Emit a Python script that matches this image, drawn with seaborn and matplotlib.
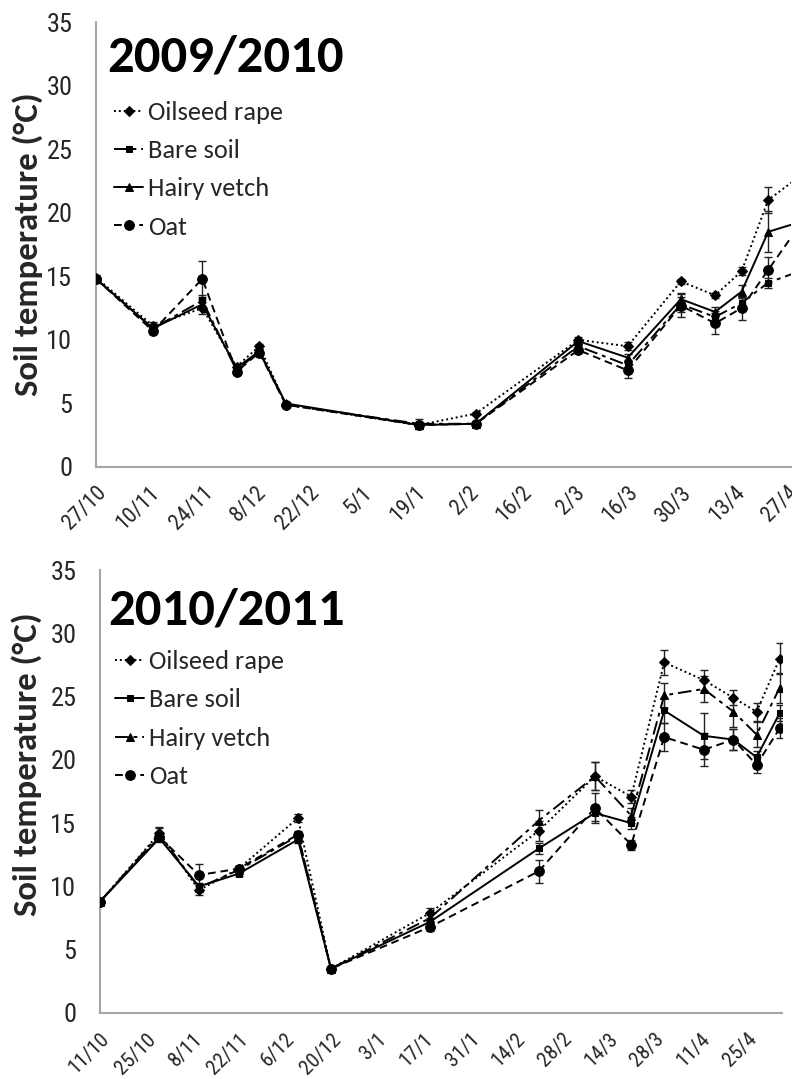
import matplotlib
matplotlib.use("Agg")
import matplotlib.pyplot as plt
from matplotlib import font_manager
from matplotlib.transforms import ScaledTranslation
import pandas as pd
import seaborn as sns

# 2009/2010 season
dates_0910 = ["2009-10-27", "2009-11-11", "2009-11-24", "2009-12-03", "2009-12-09",
              "2009-12-16", "2010-01-20", "2010-02-04", "2010-03-03", "2010-03-16",
              "2010-03-30", "2010-04-08", "2010-04-15", "2010-04-22", "2010-05-04"]
oilseed_0910 = [14.9, 11.1, 12.5, 7.9, 9.5, 4.9, 3.3, 4.2, 10.0, 9.5, 14.6, 13.5, 15.4, 21.0, 23.7]
bare_0910 = [14.8, 10.9, 13.1, 7.6, 9.1, 4.9, 3.4, 3.4, 9.5, 8.0, 12.8, 11.8, 12.9, 14.5, 15.8]
hairy_0910 = [14.8, 10.9, 12.8, 7.8, 9.1, 5.0, 3.3, 3.4, 9.9, 8.6, 13.2, 12.2, 13.8, 18.5, 19.6]
oat_0910 = [14.8, 10.7, 14.8, 7.5, 9.0, 4.9, 3.3, 3.4, 9.2, 7.6, 12.7, 11.3, 12.5, 15.5, 20.6]
oilseed_err_0910 = [0.2, 0.3, 0.5, 0.2, 0.2, 0.1, 0.2, 0.1, 0.2, 0.3, 0.2, 0.2, 0.3, 1.0, 1.0]
bare_err_0910 = [0.2, 0.2, 0.4, 0.2, 0.2, 0.1, 0.4, 0.1, 0.2, 0.4, 0.6, 0.5, 0.4, 0.4, 0.5]
hairy_err_0910 = [0.2, 0.2, 0.4, 0.2, 0.2, 0.1, 0.2, 0.1, 0.2, 0.3, 0.5, 0.4, 0.5, 1.6, 1.0]
oat_err_0910 = [0.2, 0.2, 1.4, 0.2, 0.2, 0.1, 0.2, 0.1, 0.2, 0.6, 0.9, 0.8, 0.9, 1.0, 1.0]

# 2010/2011 season
dates_1011 = ["2010-10-11", "2010-10-29", "2010-11-10", "2010-11-22", "2010-12-10",
              "2010-12-20", "2011-01-19", "2011-02-21", "2011-03-10", "2011-03-21",
              "2011-03-31", "2011-04-12", "2011-04-21", "2011-04-28", "2011-05-05"]
oilseed_1011 = [8.8, 14.2, 9.7, 11.4, 15.4, 3.5, 7.9, 14.4, 18.7, 17.1, 27.7, 26.3, 24.9, 23.8, 28.0]
bare_1011 = [8.8, 13.8, 10.0, 11.0, 13.7, 3.5, 7.2, 13.0, 15.8, 15.0, 23.9, 21.9, 21.6, 20.2, 23.7]
hairy_1011 = [8.8, 14.1, 9.9, 11.3, 14.0, 3.5, 7.5, 15.2, 18.7, 15.6, 25.1, 25.6, 23.8, 22.0, 25.7]
oat_1011 = [8.8, 13.9, 10.9, 11.4, 14.1, 3.5, 6.8, 11.2, 16.2, 13.3, 21.8, 20.8, 21.6, 19.6, 22.5]
oilseed_err_1011 = [0.1, 0.5, 0.4, 0.2, 0.3, 0.1, 0.4, 0.8, 1.1, 0.5, 1.0, 0.8, 0.6, 0.7, 1.2]
bare_err_1011 = [0.1, 0.3, 0.3, 0.2, 0.3, 0.1, 0.3, 0.4, 0.6, 0.5, 1.0, 1.8, 0.8, 0.5, 0.6]
hairy_err_1011 = [0.1, 0.5, 0.3, 0.2, 0.3, 0.1, 0.4, 0.8, 1.1, 0.6, 1.0, 1.0, 1.2, 1.0, 1.2]
oat_err_1011 = [0.1, 0.3, 0.9, 0.2, 0.3, 0.1, 0.3, 0.9, 1.2, 0.4, 1.1, 1.3, 0.8, 0.6, 0.8]

labels = ["Oilseed rape", "Bare soil", "Hairy vetch", "Oat"]

sns.set_style("white")

installed = {f.name for f in font_manager.fontManager.ttflist}
def pick(names):
    for n in names:
        if n in installed:
            return n
    return "DejaVu Sans"

narrow = pick(["Liberation Sans Narrow", "Arial Narrow", "Roboto Condensed", "DejaVu Sans Condensed", "Liberation Sans"])
calib = pick(["Carlito", "Lato", "Open Sans"])

DOT = (0, (1, 1.5))
DASH = (0, (4, 2.5))
LONGDASHDOT = (0, (7, 2.5, 2, 2.5))
SOLID = "-"

fig = plt.figure(figsize=(7.92, 10.79), dpi=100)
ax1 = fig.add_axes([96 / 792, 1 - 467 / 1079, 695 / 792, 445 / 1079])
ax2 = fig.add_axes([100 / 792, 1 - 1013 / 1079, 682 / 792, 443 / 1079])

panels = [
    (ax1, dates_0910, [oilseed_0910, bare_0910, hairy_0910, oat_0910],
     [oilseed_err_0910, bare_err_0910, hairy_err_0910, oat_err_0910],
     [DOT, LONGDASHDOT, SOLID, DASH], "2009/2010", 183,
     (-0.076, 0.50), (0.016, 0.888), (0.026, 0.823), 6, 16),
    (ax2, dates_1011, [oilseed_1011, bare_1011, hairy_1011, oat_1011],
     [oilseed_err_1011, bare_err_1011, hairy_err_1011, oat_err_1011],
     [DOT, SOLID, LONGDASHDOT, DASH], "2010/2011", 206.7,
     (-0.085, 0.562), (0.012, 0.876), (0.022, 0.819), 7, 15),
]
markers = ["D", "s", "^", "o"]
msizes = [5.5, 5, 5.5, 7]

for (ax, dates, series, errs, styles, title, xmax, ylab_pos, title_pos, leg_pos,
     xpad, xfs) in panels:
    x = pd.to_datetime(dates)
    handles = []
    for vals, err, ls, mk, ms, lab in zip(series, errs, styles, markers, msizes, labels):
        ax.errorbar(x, vals, yerr=err, fmt="none", ecolor="#222222",
                    elinewidth=1, capsize=3, capthick=1, zorder=2)
        sns.lineplot(x=x, y=vals, ax=ax, color="black", linestyle=ls, linewidth=1.4,
                     marker=mk, markersize=ms, markeredgecolor="black",
                     markerfacecolor="black", label=lab, zorder=3, legend=False)
        handles.append(ax.lines[-1])

    start = x[0]
    ticks = pd.date_range(start, periods=15 if xmax > 190 else 14, freq="14D")
    ax.set_xticks(ticks)
    ax.set_xticklabels([f"{d.day}/{d.month}" for d in ticks], rotation=45,
                       ha="right", va="top", rotation_mode="anchor",
                       fontsize=xfs, family=narrow)
    shift = ScaledTranslation(4 / 100, 0, fig.dpi_scale_trans)
    for t in ax.get_xticklabels():
        t.set_transform(t.get_transform() + shift)
    ax.set_xlim(start, start + pd.Timedelta(days=xmax))
    ax.set_ylim(0, 35)
    ax.set_yticks(range(0, 36, 5))
    ax.set_yticklabels([str(v) for v in range(0, 36, 5)], fontsize=19, family=narrow)
    ax.tick_params(axis="x", direction="out", length=5, width=1, color="#a6a6a6", pad=xpad)
    ax.tick_params(axis="y", direction="out", length=6, width=1, color="#a6a6a6", pad=11)
    for s in ["top", "right"]:
        ax.spines[s].set_visible(False)
    for s in ["left", "bottom"]:
        ax.spines[s].set_color("#a6a6a6")
        ax.spines[s].set_linewidth(1.5)

    ax.set_xlabel("")
    ax.set_ylabel("Soil temperature (°C)", fontsize=25, fontweight="bold", family=calib)
    ax.yaxis.set_label_coords(*ylab_pos)

    ax.text(title_pos[0], title_pos[1], title, transform=ax.transAxes,
            fontsize=38, fontweight="bold", family=calib, va="baseline", ha="left",
            color="black")

    ax.legend(handles=handles, labels=labels, loc="upper left", bbox_to_anchor=leg_pos,
              frameon=False, borderaxespad=0, borderpad=0, handlelength=1.1,
              handletextpad=0.2, labelspacing=0.58,
              prop={"family": calib, "size": 19})

fig.savefig("out.png", dpi=100)
